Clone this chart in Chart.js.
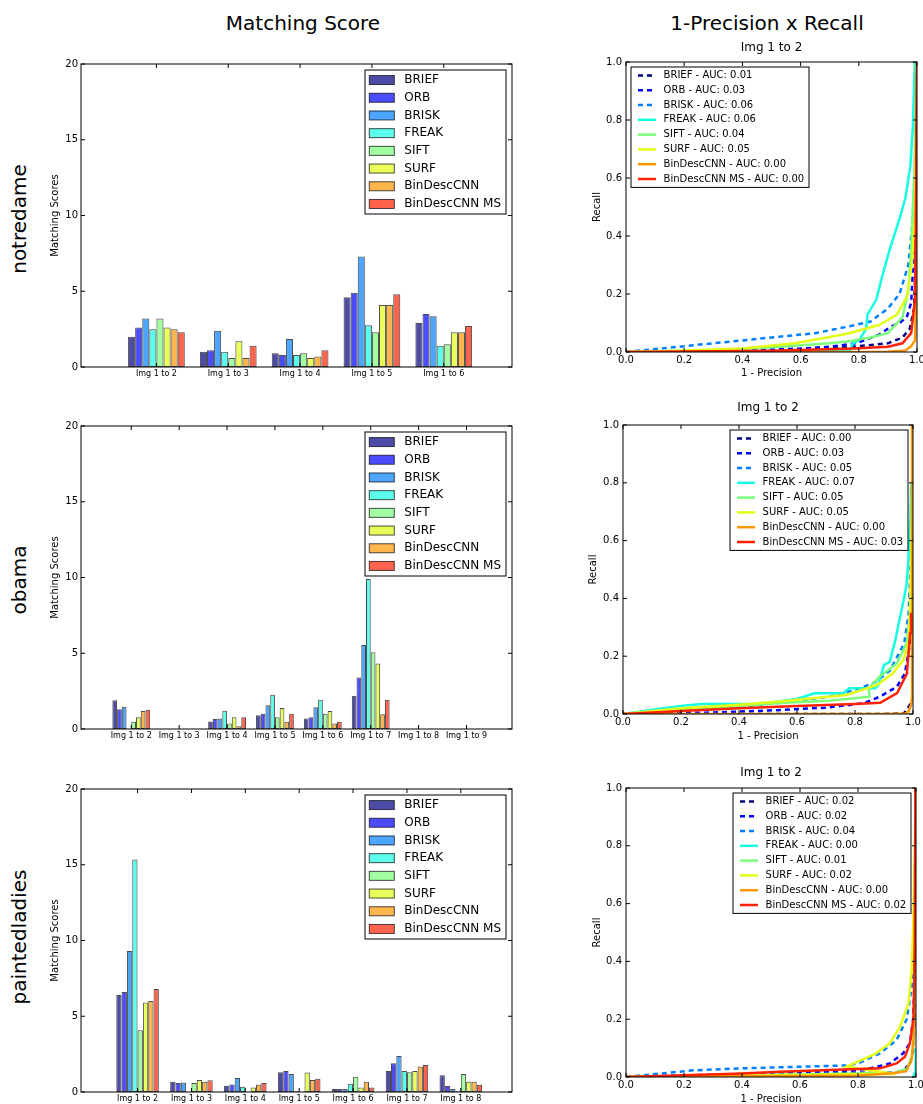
<!DOCTYPE html>
<html lang="en">
<head>
<meta charset="UTF-8">
<title>Matching Score / 1-Precision x Recall</title>
<script src="https://cdn.jsdelivr.net/npm/chart.js"></script>
<style>
  body { margin: 0; width: 923px; height: 1104px; overflow: hidden; background: #fff; position: relative; font-family: 'DejaVu Sans', sans-serif; color: #000; }
  canvas { position: absolute; }
  .head { position: absolute; font-size: 20px; white-space: nowrap; transform: translate(-50%, -50%); }
  .row { position: absolute; font-size: 20px; white-space: nowrap; transform: translate(-50%, -50%) rotate(-90deg); }
</style>
</head>
<body>

<div class="head" style="left:303px;top:23px">Matching Score</div>
<div class="head" style="left:767px;top:23px">1-Precision x Recall</div>
<div class="row" style="left:19px;top:219px">notredame</div>
<div class="row" style="left:19px;top:580px">obama</div>
<div class="row" style="left:19px;top:937px">paintedladies</div>

<script>
const methods = ['BRIEF', 'ORB', 'BRISK', 'FREAK', 'SIFT', 'SURF', 'BinDescCNN', 'BinDescCNN MS'];

// matching scores, one row per method (same order as methods)
const notredamePairs = ['Img 1 to 2', 'Img 1 to 3', 'Img 1 to 4', 'Img 1 to 5', 'Img 1 to 6'];
const notredameScores = [
  [2.0, 1.0, 0.9, 4.6, 2.9],
  [2.6, 1.1, 0.8, 4.9, 3.5],
  [3.2, 2.4, 1.85, 7.3, 3.35],
  [2.5, 1.0, 0.8, 2.75, 1.4],
  [3.2, 0.6, 0.9, 2.3, 1.5],
  [2.6, 1.7, 0.6, 4.1, 2.3],
  [2.5, 0.6, 0.7, 4.1, 2.3],
  [2.3, 1.4, 1.1, 4.8, 2.7]
];

const obamaPairs = ['Img 1 to 2', 'Img 1 to 3', 'Img 1 to 4', 'Img 1 to 5', 'Img 1 to 6', 'Img 1 to 7', 'Img 1 to 8', 'Img 1 to 9'];
const obamaScores = [
  [1.9, 0, 0.5, 0.9, 0.7, 2.2, 0, 0],
  [1.3, 0, 0.66, 1.0, 0.77, 3.4, 0, 0],
  [1.47, 0, 0.7, 1.56, 1.43, 5.55, 0, 0],
  [0, 0, 1.2, 2.26, 1.93, 9.9, 0, 0],
  [0.48, 0, 0.37, 0.77, 1.0, 5.07, 0, 0],
  [0.77, 0, 0.77, 1.38, 1.19, 4.33, 0, 0],
  [1.19, 0, 0.18, 0.48, 0.37, 0.97, 0, 0],
  [1.27, 0, 0.77, 1.0, 0.48, 1.93, 0, 0]
];

const paintedPairs = ['Img 1 to 2', 'Img 1 to 3', 'Img 1 to 4', 'Img 1 to 5', 'Img 1 to 6', 'Img 1 to 7', 'Img 1 to 8'];
const paintedScores = [
  [6.4, 0.68, 0.42, 1.3, 0.2, 1.38, 1.1],
  [6.6, 0.6, 0.5, 1.38, 0.2, 1.9, 0.4],
  [9.3, 0.62, 0.92, 1.19, 0.2, 2.37, 0.2],
  [15.35, 0, 0.35, 0.05, 0.55, 1.38, 0.05],
  [4.08, 0.6, 0, 0, 1.0, 1.3, 1.19],
  [5.9, 0.8, 0.3, 1.28, 0.29, 1.38, 0.68],
  [6.0, 0.68, 0.5, 0.8, 0.68, 1.69, 0.68],
  [6.8, 0.78, 0.6, 0.88, 0.29, 1.78, 0.48]
];

// 1-precision x recall curves, [1 - precision, recall]
const ndBrief = [[0,0],[0.3,0.002],[0.5,0.005],[0.7,0.012],[0.8,0.02],[0.9,0.03],[0.95,0.05],[0.975,0.08],[0.99,0.15],[0.995,0.3],[1,1]];
const ndOrb = [[0,0],[0.4,0.005],[0.6,0.012],[0.7,0.018],[0.79,0.03],[0.87,0.06],[0.91,0.087],[0.94,0.1],[0.965,0.12],[0.98,0.17],[0.987,0.3],[0.99,0.45],[1,1]];
const ndBrisk = [[0,0],[0.1,0.01],[0.2,0.02],[0.3,0.03],[0.4,0.04],[0.53,0.053],[0.65,0.065],[0.76,0.087],[0.84,0.105],[0.9,0.15],[0.94,0.2],[0.97,0.3],[0.985,0.45],[0.995,0.7],[1,1]];
const ndFreak = [[0,0],[0.4,0.001],[0.77,0.005],[0.775,0.02],[0.78,0.03],[0.8,0.04],[0.81,0.055],[0.825,0.08],[0.83,0.13],[0.86,0.18],[0.875,0.24],[0.905,0.35],[0.94,0.46],[0.96,0.53],[0.977,0.64],[0.986,0.78],[0.991,0.96],[0.992,1]];
const ndSift = [[0,0],[0.3,0.005],[0.53,0.018],[0.7,0.03],[0.76,0.036],[0.84,0.05],[0.9,0.065],[0.95,0.12],[0.97,0.21],[0.98,0.35],[0.99,0.6],[1,1]];
const ndSurf = [[0,0],[0.2,0.005],[0.4,0.012],[0.58,0.03],[0.69,0.05],[0.76,0.063],[0.87,0.093],[0.93,0.128],[0.965,0.19],[0.982,0.3],[0.993,0.47],[0.998,0.8],[1,1]];
const ndBin = [[0,0],[0.9,0.001],[0.96,0.005],[0.98,0.02],[0.993,0.04],[0.998,0.2],[1,1]];
const ndBinMs = [[0,0],[0.5,0.004],[0.78,0.012],[0.9,0.018],[0.95,0.03],[0.98,0.065],[0.993,0.18],[0.996,0.45],[0.998,0.8],[1,1]];
const notredameAuc = ['0.01', '0.03', '0.06', '0.06', '0.04', '0.05', '0.00', '0.00'];

const obBrief = [[0,0],[0.9,0],[0.97,0.002],[0.975,0.015],[0.985,0.025],[0.995,0.04]];
const obOrb = [[0,0],[0.3,0.005],[0.5,0.012],[0.7,0.022],[0.83,0.037],[0.886,0.06],[0.944,0.094],[0.972,0.14],[0.99,0.245],[0.997,0.3]];
const obBrisk = [[0,0],[0.2,0.01],[0.4,0.025],[0.6,0.045],[0.71,0.06],[0.8,0.083],[0.87,0.11],[0.92,0.15],[0.97,0.245],[0.985,0.35],[0.995,0.6],[1,1]];
const obFreak = [[0,0],[0.1,0.015],[0.2,0.028],[0.27,0.035],[0.47,0.035],[0.6,0.052],[0.66,0.072],[0.76,0.072],[0.78,0.089],[0.87,0.089],[0.88,0.1],[0.9,0.17],[0.92,0.18],[0.94,0.26],[0.95,0.31],[0.967,0.39],[0.978,0.45],[0.984,0.53],[0.991,0.68],[0.994,0.8]];
const obSift = [[0,0],[0.2,0.015],[0.4,0.028],[0.54,0.038],[0.71,0.046],[0.85,0.06],[0.848,0.09],[0.886,0.13],[0.944,0.175],[0.978,0.245],[0.99,0.35],[0.995,0.5],[1,1]];
const obSurf = [[0,0],[0.2,0.02],[0.4,0.032],[0.54,0.043],[0.77,0.066],[0.875,0.1],[0.93,0.14],[0.967,0.187],[0.984,0.245],[0.99,0.36],[0.995,0.6],[1,1]];
const obBin = [[0,0],[0.9,0],[0.975,0.002],[0.985,0.01],[0.993,0.03],[0.997,0.06],[0.997,1]];
const obBinMs = [[0,0],[0.2,0.01],[0.4,0.02],[0.6,0.028],[0.8,0.035],[0.887,0.039],[0.945,0.072],[0.979,0.14],[0.99,0.28],[0.993,0.35]];
const obamaAuc = ['0.00', '0.03', '0.05', '0.07', '0.05', '0.05', '0.00', '0.03'];

const pdBrief = [[0,0],[0.3,0.005],[0.6,0.01],[0.85,0.015],[0.93,0.015],[0.96,0.025],[0.98,0.05],[0.99,0.09],[0.995,0.2],[1,1]];
const pdOrb = [[0,0],[0.3,0.008],[0.6,0.015],[0.82,0.024],[0.91,0.047],[0.956,0.082],[0.979,0.117],[0.99,0.2],[0.996,0.35],[1,1]];
const pdBrisk = [[0,0],[0.1,0.01],[0.23,0.023],[0.4,0.03],[0.58,0.035],[0.76,0.04],[0.8,0.047],[0.876,0.082],[0.933,0.128],[0.968,0.2],[0.985,0.31],[0.992,0.4],[1,1]];
const pdFreak = [[0.99,0],[0.998,0.02],[0.999,0.1]];
const pdSift = [[0,0],[0.5,0.008],[0.8,0.012],[0.93,0.015],[0.97,0.03],[0.985,0.07],[0.992,0.12],[0.996,0.3],[1,1]];
const pdSurf = [[0,0],[0.3,0.004],[0.6,0.007],[0.85,0.01],[0.93,0.01],[0.85,0.022],[0.76,0.036],[0.86,0.08],[0.91,0.117],[0.945,0.174],[0.974,0.255],[0.985,0.37],[0.991,0.54],[0.996,0.8],[1,1]];
const pdBin = [[0,0],[0.8,0.005],[0.92,0.013],[0.966,0.02],[0.985,0.06],[0.993,0.15],[0.996,0.5],[0.998,1]];
const pdBinMs = [[0,0],[0.2,0.006],[0.4,0.012],[0.53,0.018],[0.7,0.024],[0.876,0.03],[0.933,0.047],[0.962,0.07],[0.979,0.117],[0.991,0.2],[0.996,0.45],[0.998,1]];
const paintedAuc = ['0.02', '0.02', '0.04', '0.00', '0.01', '0.02', '0.00', '0.02'];

// jet colormap at i/8
const jet = [[0,0,128],[0,0,255],[0,128,255],[21,255,226],[123,255,123],[226,255,21],[255,151,0],[255,33,0]];
const rgba = (c, a) => `rgba(${c[0]},${c[1]},${c[2]},${a})`;

Chart.defaults.font.family = "'DejaVu Sans', sans-serif";
Chart.defaults.color = '#000';

// matplotlib-like box with inward ticks on all four sides
const frame = {
  id: 'frame',
  afterDatasetsDraw(chart) {
    const { ctx, chartArea: a, scales } = chart;
    const len = 4;
    ctx.save();
    ctx.strokeStyle = '#000';
    ctx.lineWidth = 1;
    ctx.beginPath();
    scales.x.ticks.forEach((t, i) => {
      const px = scales.x.getPixelForTick(i);
      ctx.moveTo(px, a.bottom); ctx.lineTo(px, a.bottom - len);
      ctx.moveTo(px, a.top); ctx.lineTo(px, a.top + len);
    });
    scales.y.ticks.forEach((t, i) => {
      const py = scales.y.getPixelForTick(i);
      ctx.moveTo(a.left, py); ctx.lineTo(a.left + len, py);
      ctx.moveTo(a.right, py); ctx.lineTo(a.right - len, py);
    });
    ctx.stroke();
    ctx.strokeRect(a.left, a.top, a.right - a.left, a.bottom - a.top);
    ctx.restore();
  }
};

// legend drawn inside the axes like matplotlib
const boxLegend = {
  id: 'boxLegend',
  afterDraw(chart, args, o) {
    const { ctx, chartArea: a } = chart;
    const sets = chart.data.datasets;
    const h = sets.length * o.rowH + 2 * o.padY;
    const x0 = o.side === 'left' ? a.left + o.inset : a.right - o.inset - o.width;
    const y0 = a.top + o.inset;
    ctx.save();
    ctx.fillStyle = '#fff';
    ctx.fillRect(x0, y0, o.width, h);
    ctx.lineWidth = 1;
    ctx.strokeStyle = '#000';
    ctx.strokeRect(x0, y0, o.width, h);
    ctx.font = o.font;
    ctx.textBaseline = 'middle';
    sets.forEach((ds, i) => {
      const cy = y0 + o.padY + o.rowH * (i + 0.5);
      if (o.kind === 'bar') {
        ctx.fillStyle = ds.backgroundColor;
        ctx.fillRect(x0 + o.sampleX, cy - 4.5, o.sampleW, 9);
        ctx.strokeStyle = ds.borderColor;
        ctx.lineWidth = 1;
        ctx.strokeRect(x0 + o.sampleX, cy - 4.5, o.sampleW, 9);
      } else {
        ctx.strokeStyle = ds.borderColor;
        ctx.lineWidth = ds.borderWidth;
        ctx.setLineDash(ds.borderDash);
        ctx.beginPath();
        ctx.moveTo(x0 + o.sampleX, cy);
        ctx.lineTo(x0 + o.sampleX + o.sampleW, cy);
        ctx.stroke();
        ctx.setLineDash([]);
      }
      ctx.fillStyle = '#000';
      ctx.fillText(ds.label, x0 + o.textX, cy);
    });
    ctx.restore();
  }
};

function place(box) {
  const c = document.createElement('canvas');
  c.width = box.w;
  c.height = box.h;
  c.style.left = box.left + 'px';
  c.style.top = box.top + 'px';
  document.body.appendChild(c);
  return c;
}

function barChart(box, pairs, scores) {
  new Chart(place(box), {
    type: 'bar',
    data: {
      datasets: methods.map((m, k) => ({
        label: m,
        data: scores[k].map((v, i) => ({ x: i, y: v })),
        backgroundColor: rgba(jet[k], 0.7),
        borderColor: 'rgba(0,0,0,0.7)',
        borderWidth: 1,
        borderSkipped: false,
        categoryPercentage: 0.79,
        barPercentage: 1
      }))
    },
    options: {
      responsive: false,
      animation: false,
      events: [],
      layout: { autoPadding: false, padding: { top: 8, right: 8 } },
      plugins: {
        legend: { display: false },
        tooltip: { enabled: false },
        boxLegend: { kind: 'bar', side: 'right', inset: 6, width: 141, rowH: 17.7, padY: 1.2,
                     font: "12px 'DejaVu Sans'", sampleX: 4.3, sampleW: 25, textX: 39.3 }
      },
      scales: {
        x: {
          type: 'linear', offset: false, min: -1.05, max: pairs.length - 0.05,
          grid: { display: false, drawTicks: false }, border: { display: false },
          afterBuildTicks: s => { s.ticks = pairs.map((p, i) => ({ value: i })); },
          afterFit: s => { s.height = 18; },
          ticks: { callback: v => pairs[v], autoSkip: false, maxRotation: 0, padding: 2, font: { size: 8 } }
        },
        y: {
          min: 0, max: 20,
          grid: { display: false, drawTicks: false }, border: { display: false },
          afterFit: s => { s.width = 36; },
          ticks: { stepSize: 5, padding: 3, font: { size: 10 } },
          title: { display: true, text: 'Matching Scores', font: { size: 10 } }
        }
      }
    },
    plugins: [frame, boxLegend]
  });
}

function prChart(box, curves, auc, side) {
  new Chart(place(box), {
    type: 'line',
    data: {
      datasets: methods.map((m, k) => ({
        label: `${m} - AUC: ${auc[k]}`,
        data: curves[k],
        borderColor: rgba(jet[k], 1),
        borderWidth: 2.5,
        borderDash: k < 3 ? [5, 4] : [],
        pointRadius: 0,
        tension: 0,
        fill: false,
        order: methods.length - k
      }))
    },
    options: {
      responsive: false,
      animation: false,
      events: [],
      layout: { autoPadding: false, padding: { right: box.padRight } },
      plugins: {
        legend: { display: false },
        tooltip: { enabled: false },
        title: { display: true, text: 'Img 1 to 2', fullSize: false, color: '#000',
                 font: { size: 12, weight: 'normal' }, padding: { top: 0, bottom: box.titleGap } },
        boxLegend: { kind: 'line', side: side, inset: 5, width: 178, rowH: 14.8, padY: 1,
                     font: "10px 'DejaVu Sans'", sampleX: 7, sampleW: 18, textX: 32.6 }
      },
      scales: {
        x: {
          type: 'linear', min: 0, max: 1,
          grid: { display: false, drawTicks: false }, border: { display: false },
          afterFit: s => { s.height = box.xH; },
          ticks: { stepSize: 0.2, padding: 2, maxRotation: 0, font: { size: 10 }, callback: v => v.toFixed(1) },
          title: { display: true, text: '1 - Precision', font: { size: 10 } }
        },
        y: {
          min: 0, max: 1,
          grid: { display: false, drawTicks: false }, border: { display: false },
          afterFit: s => { s.width = box.yW; },
          ticks: { stepSize: 0.2, padding: 4, font: { size: 10 }, callback: v => v.toFixed(1) },
          title: { display: true, text: 'Recall', font: { size: 10 } }
        }
      }
    },
    plugins: [frame, boxLegend]
  });
}

barChart({ left: 45, top: 55, w: 475, h: 330 }, notredamePairs, notredameScores);
barChart({ left: 45, top: 417, w: 475, h: 330 }, obamaPairs, obamaScores);
barChart({ left: 45, top: 780, w: 475, h: 330 }, paintedPairs, paintedScores);

prChart({ left: 587, top: 41, w: 343, h: 342, padRight: 13, titleGap: 6.6, xH: 31, yW: 39 },
  [ndBrief, ndOrb, ndBrisk, ndFreak, ndSift, ndSurf, ndBin, ndBinMs], notredameAuc, 'left');
prChart({ left: 583, top: 401, w: 343, h: 345, padRight: 13, titleGap: 9.6, xH: 32, yW: 40 },
  [obBrief, obOrb, obBrisk, obFreak, obSift, obSurf, obBin, obBinMs], obamaAuc, 'right');
prChart({ left: 587, top: 766, w: 343, h: 343, padRight: 14, titleGap: 7.6, xH: 32, yW: 39 },
  [pdBrief, pdOrb, pdBrisk, pdFreak, pdSift, pdSurf, pdBin, pdBinMs], paintedAuc, 'right');
</script>
</body>
</html>
